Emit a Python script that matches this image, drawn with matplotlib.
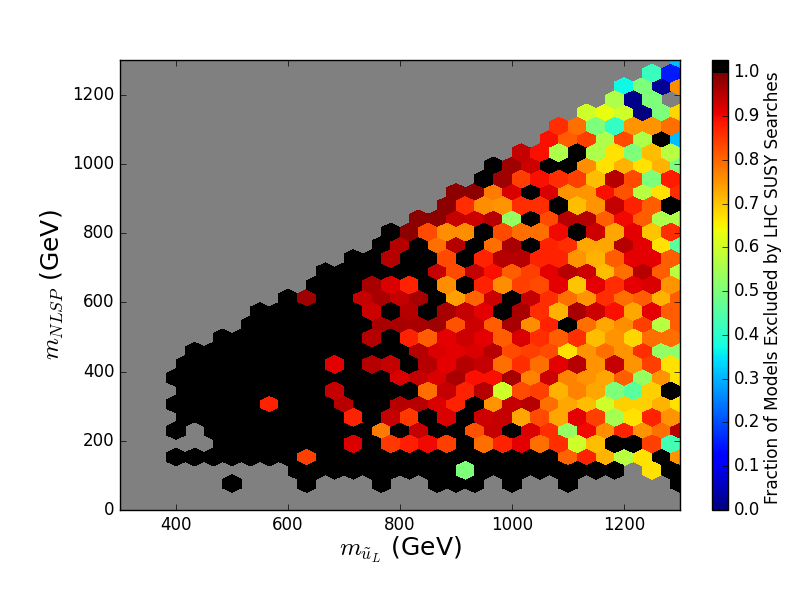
import numpy as np
import matplotlib
matplotlib.use('Agg')
import matplotlib.pyplot as plt
from matplotlib.colors import ListedColormap, Normalize

plt.style.use('classic')

# excluded fraction per hex row, left to right (None = empty bin)
row_02 = [1, None, None, None, 1, None, None, None, 1, None, None, 1, 1, 1, None, 1, None, None, 1, None, None, None, None, None, 1]
row_03 = [1, 1, 1, 1, 1, 1, 1, 1, 1, .50, 1, 1, 1, 1, 1, 1, 1, 1, None, .67, 1]
row_04 = [1, 1, 1, 1, 1, 1, 1, .84, 1, 1, 1, 1, 1, 1, 1, 1, 1, 1, 1, 1, 1, .80, .87, .72, .57, .67, 1, .75]
row_05 = [1, 1, 1, 1, 1, 1, 1, .92, 1, .85, .875, .90, .84, 1, .79, .87, .91, .79, .86, .60, .71, 1, 1, .84, .43]
row_06 = [1, None, 1, 1, 1, 1, 1, 1, 1, 1, 1, .78, 1, .94, 1, 1, .82, .94, 1, .92, .86, .53, .90, .76, .87, .75, .79, .95]
row_07 = [1, 1, 1, 1, 1, 1, 1, 1, 1, .87, 1, .94, .85, 1, .92, 1, .93, .94, .73, .83, .73, .91, .84, .55, .67, .87, .75]
row_08 = [1, 1, 1, 1, 1, .87, 1, 1, 1, .95, 1, 1, .95, .95, .92, .87, 1, .75, .94, .95, .79, .73, .71, .60, .69, .69, .72, .67]
row_09 = [1, 1, 1, 1, 1, 1, 1, 1, .94, 1, 1, 1, 1, .79, .94, .87, .95, .60, .83, .84, .72, .77, .73, .50, .46, .69, 1]
row_10 = [1, 1, 1, 1, 1, 1, 1, 1, 1, 1, 1, 1, .92, .94, .92, .96, .89, .89, .96, .77, .93, .77, .75, .73, .81, .53, .75, .67]
row_11 = [1, 1, 1, 1, 1, 1, 1, 1, .91, 1, .95, .94, 1, .95, .91, .95, .94, .79, .86, .79, .91, .95, .75, .94, .75, .84, .67]
row_12 = [1, 1, 1, 1, 1, 1, 1, 1, 1, 1, 1, 1, .95, .92, .91, .92, .95, .83, .84, .83, .67, .75, .79, .75, .86, .53, .52]
row_13 = [1, 1, 1, 1, 1, 1, 1, 1, .95, 1, .87, .81, .91, .93, .91, .81, .92, .86, .81, .86, .71, .75, .68, .79, .79]
row_14 = [1, 1, 1, 1, 1, 1, 1, .96, .96, .96, .97, .82, .93, .81, .96, .76, .87, 1, .79, .73, .76, .84, .57, .81]
row_15 = [1, 1, 1, 1, 1, 1, .93, 1, .95, 1, .96, .94, .91, 1, .96, .86, .72, .96, .93, .89, .73, .91, .81]
row_16 = [1, .97, 1, 1, .94, .96, .94, .96, 1, .74, .80, .93, 1, .94, .86, .79, .75, .86, .79, .81, .72, .81]
row_17 = [1, 1, 1, .96, .92, .87, 1, .76, 1, .87, .76, .84, .83, .91, .70, .91, .86, .91, .92, .75]
row_18 = [1, 1, 1, 1, 1, 1, .94, .83, .94, .89, .81, .84, .91, .95, .93, .71, .79, .95, .81, .57]
row_19 = [1, 1, .95, 1, 1, .83, 1, .87, .95, .95, .87, .87, .75, .72, .81, .91, .91, .81]
row_20 = [1, .95, 1, .79, .95, 1, .79, .96, 1, .87, .86, .73, .73, .95, .91, .67, .46]
row_21 = [1, .985, .83, .76, .76, 1, .83, .79, .79, .90, 1, .93, .73, .91, .70, .86]
row_22 = [.985, .985, .94, .93, .95, .53, 1, .83, .95, .95, .81, .90, .81, .56, .56]
row_23 = [.985, .86, .76, .75, .86, .86, 1, .71, .75, .94, .87, .81, 1]
row_24 = [.985, .985, .78, .92, 1, .92, .75, .75, .89, .82, .57, .67, .86]
row_25 = [1, .97, .84, .89, .86, .84, .71, .95, .83, .50, .88]
row_26 = [1, .97, .93, 1, 1, .76, .67, .72, .67, .72, .50]
row_27 = [.94, .89, .56, 1, .56, .67, .50, .71, .57]
row_28 = [.89, .81, .84, .56, .83, .56, 1, .31]
row_29 = [.86, .79, .50, .41, .75, .75, .79]
row_30 = [.60, .63, .60, .0, .50, .68]
row_31 = [.56, .01, .50]
row_32 = [.37, .50, .02, .76]
row_33 = [.42, .15]
row_34 = [.31]

rows = [row_02, row_03, row_04, row_05, row_06, row_07, row_08, row_09, row_10,
        row_11, row_12, row_13, row_14, row_15, row_16, row_17, row_18, row_19,
        row_20, row_21, row_22, row_23, row_24, row_25, row_26, row_27, row_28,
        row_29, row_30, row_31, row_32, row_33, row_34]
# bin index of the first entry in each row
first_bin = [6, 9, 3, 5, 3, 3, 3, 3, 3, 3, 4, 5, 7, 7, 9, 10, 11, 12, 14, 14, 16,
             17, 18, 19, 20, 21, 23, 23, 25, 26, 27, 28, 30]

xmin, xmax, ymin, ymax = 300, 1300, 0, 1300
nx, ny = 30, 17
sx = (xmax - xmin) / nx
sy = (ymax - ymin) / ny

xs, ys, fracs = [], [], []
for k, (row, start) in enumerate(zip(rows, first_bin), start=2):
    for j, val in enumerate(row):
        if val is None:
            continue
        # odd rows sit half a bin to the right
        xs.append(xmin + sx * (start + j + 0.5 * (k % 2)))
        ys.append(ymin + 0.5 * sy * k)
        fracs.append(val)

# jet from 0 to 1, black just above
top = 1.028
n_jet = 1024
jet = plt.get_cmap('jet')(np.linspace(0, 1, n_jet))
n_black = int(n_jet * (top - 1.0)) + 2
cmap = ListedColormap(np.vstack([jet, np.tile([0, 0, 0, 1], (n_black, 1))]))

fig = plt.figure(figsize=(8, 6), dpi=100, facecolor='w')
ax = fig.add_axes([0.15, 0.15, 0.70, 0.75])
ax.set_facecolor('gray')
hb = ax.hexbin(xs, ys, C=fracs, gridsize=(nx, ny), extent=(xmin, xmax, ymin, ymax),
               reduce_C_function=np.mean, cmap=cmap, norm=Normalize(0, top),
               linewidths=0)
# no antialiasing, otherwise the seams between hexes show up grey
hb.set_antialiased(False)
ax.set_xlim(xmin, xmax)
ax.set_ylim(ymin, ymax)
ax.set_xticks([400, 600, 800, 1000, 1200])
ax.set_yticks([0, 200, 400, 600, 800, 1000, 1200])
ax.tick_params(labelsize=12)
ax.set_xlabel(r'$m_{\tilde{u}_L}$ (GeV)', fontsize=18, labelpad=1)
ax.set_ylabel(r'$m_{NLSP}$ (GeV)', fontsize=18)

cax = fig.add_axes([0.89, 0.15, 0.02, 0.75])
cb = fig.colorbar(hb, cax=cax, ticks=np.arange(0, 1.01, 0.1))
cb.ax.tick_params(labelsize=12)
cb.set_label('Fraction of Models Excluded by LHC SUSY Searches', fontsize=12.2, labelpad=3, y=0.495)

fig.savefig('out.png', dpi=100, facecolor='w')
